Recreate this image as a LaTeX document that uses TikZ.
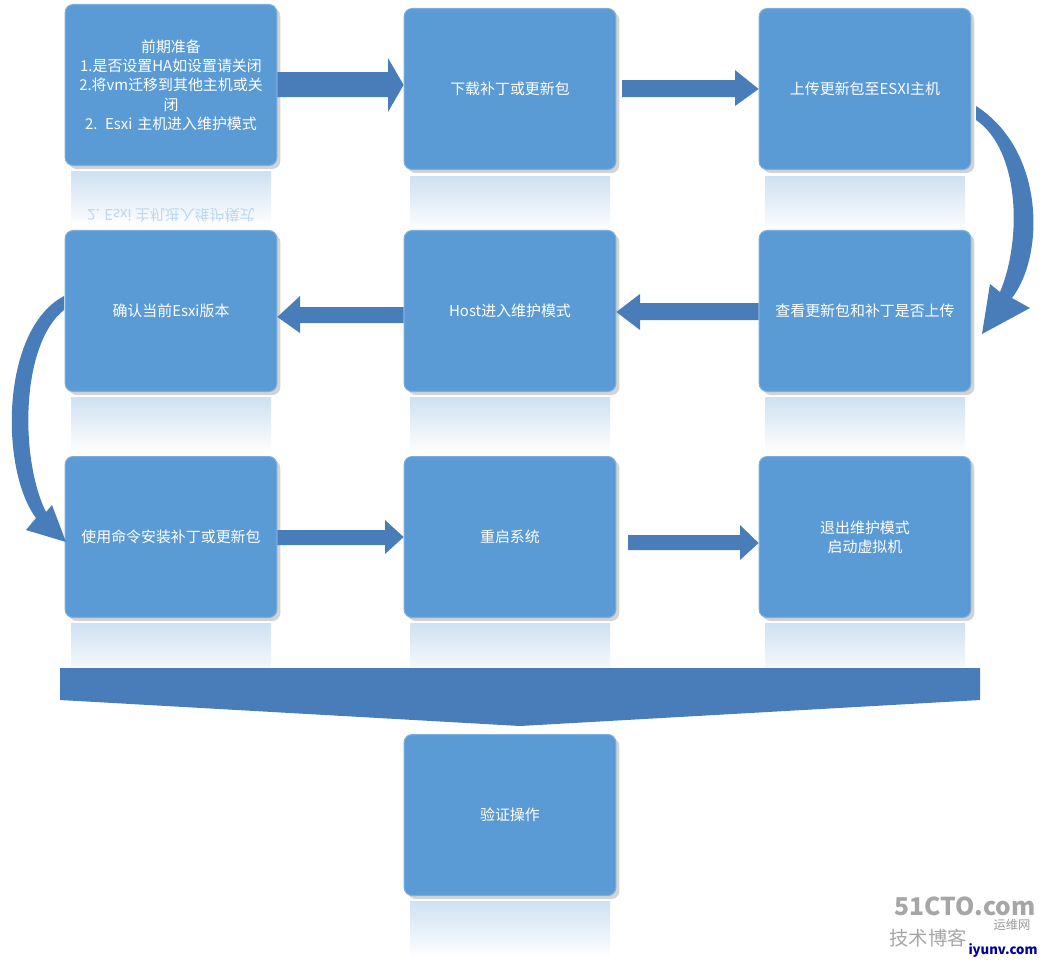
\documentclass[tikz,border=0pt]{standalone}
\usepackage{fontspec}
\setmainfont{Noto Sans CJK SC}
\usetikzlibrary{shadows}
\definecolor{boxblue}{RGB}{91,155,213}
\definecolor{arrblue}{RGB}{72,125,186}
\begin{document}
\begin{tikzpicture}[x=0.02cm,y=-0.02cm,
  stepbox/.style={draw=boxblue!80!white,line width=0.6pt,fill=boxblue,rounded corners=0.16cm,minimum width=4.16cm,minimum height=3.22cm,text width=4cm,align=center,text=white,font=\fontsize{8.5}{11}\selectfont,drop shadow={opacity=0.35,shadow xshift=2pt,shadow yshift=-2pt}},
  refl/.style={shade,top color=boxblue!30,bottom color=white,draw=none},
  barrow/.style={fill=arrblue,draw=none}]
\useasboundingbox (0,0) rectangle (1046,965);
% reflections
\foreach \x/\y in {67/165,406/170,761/170,67/391,406/391,761/391,67/617,406/617,761/617,406/895}{
  \fill[refl] (\x+4,\y+6) rectangle (\x+204,\y+62);}
\node[text=boxblue!40,font=\fontsize{8.5}{11}\selectfont,yscale=-1] at (171,215) {2. Esxi 主机进入维护模式};
% boxes
\node[stepbox] (b1) at (171,85) {前期准备\\1.是否设置HA如设置请关闭\\2.将vm迁移到其他主机或关\\闭\\2. Esxi 主机进入维护模式};
\node[stepbox] (b2) at (510,89) {下载补丁或更新包};
\node[stepbox] (b3) at (865,89) {上传更新包至ESXI主机};
\node[stepbox] (b4) at (865,311) {查看更新包和补丁是否上传};
\node[stepbox] (b5) at (510,311) {Host进入维护模式};
\node[stepbox] (b6) at (171,311) {确认当前Esxi版本};
\node[stepbox] (b7) at (171,537) {使用命令安装补丁或更新包};
\node[stepbox] (b8) at (510,537) {重启系统};
\node[stepbox] (b9) at (865,537) {退出维护模式\\启动虚拟机};
\node[stepbox] (b10) at (510,815) {验证操作};
% straight block arrows
\fill[barrow] (b1.east|-0,72) -- (388,72) -- (388,58) -- (b2.west|-0,85) -- (388,112) -- (388,97) -- (b1.east|-0,97) -- cycle;
\fill[barrow] (622,80) -- (735,80) -- (735,70) -- (b3.west|-0,89) -- (735,106) -- (735,97) -- (622,97) -- cycle;
\fill[barrow] (b4.west|-0,303) -- (640,303) -- (640,294) -- (b5.east|-0,312) -- (640,330) -- (640,320) -- (b4.west|-0,320) -- cycle;
\fill[barrow] (b5.west|-0,307) -- (300,307) -- (300,296) -- (b6.east|-0,317) -- (300,333) -- (300,323) -- (b5.west|-0,323) -- cycle;
\fill[barrow] (b7.east|-0,530) -- (385,530) -- (385,520) -- (b8.west|-0,537) -- (385,554) -- (385,545) -- (b7.east|-0,545) -- cycle;
\fill[barrow] (628,535) -- (740,535) -- (740,525) -- (b9.west|-0,543) -- (740,560) -- (740,550) -- (628,550) -- cycle;
% curved arrows
\fill[barrow] (976,106) .. controls (1045,150) and (1045,255) .. (1012,298) -- (1030,308) -- (982,334) -- (990,284) -- (1000,292) .. controls (1022,240) and (1020,150) .. (976,120) -- cycle;
\fill[barrow] (64,296) .. controls (0,330) and (0,470) .. (36,518) -- (26,530) -- (66,542) -- (52,505) -- (46,512) .. controls (20,460) and (20,345) .. (64,310) -- cycle;
% chevron band
\fill[arrblue] (60,668) -- (980,668) -- (980,700) -- (520,726) -- (60,700) -- cycle;
% watermark
\node[text=gray!70,font=\bfseries\fontsize{14}{14}\selectfont] (w1) at (965,906) {51CTO.com};
\node[text=gray!70,font=\fontsize{11}{11}\selectfont] (w2) at (928,938) {技术博客};
\node[text=gray!80,font=\fontsize{7}{7}\selectfont] (w3) at (1012,925) {运维网};
\node[text=blue!60!black,font=\bfseries\fontsize{7.5}{7.5}\selectfont] (w4) at (1003,950) {iyunv.com};
\end{tikzpicture}
\end{document}
